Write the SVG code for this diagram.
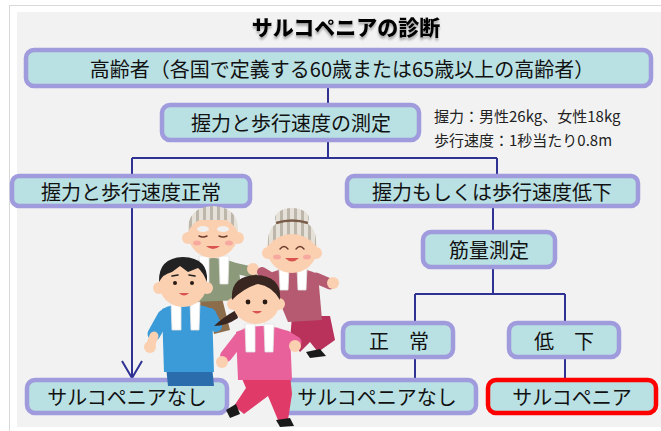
<svg xmlns="http://www.w3.org/2000/svg" width="661" height="431" viewBox="0 0 661 431">
  <defs>
    <style>
      .box { fill: #b9e0e3; stroke: #9f9bdd; stroke-width: 4.5; }
      .box-red { fill: #b9e0e3; stroke: #ff0000; stroke-width: 4.5; }
      .lbl { font-family: "Noto Sans CJK JP", "Noto Sans", sans-serif; font-size: 20px; fill: #111; text-anchor: middle; dominant-baseline: central; }
      .note { font-family: "Noto Sans CJK JP", "Noto Sans", sans-serif; font-size: 15px; fill: #222; }
      .wire { fill: none; stroke: #2f3193; stroke-width: 2; }
      .skin { fill: #fbd0b1; }
      .eye { fill: #2a1a14; }
      .line { fill: none; stroke: #6b3a2a; stroke-width: 1.4; stroke-linecap: round; }
      .towel { fill: #ffffff; stroke: #e2e2e2; stroke-width: 0.8; }
      .shoe { fill: #1a1a1a; }
    </style>
    <pattern id="greyStripes" width="7" height="10" patternUnits="userSpaceOnUse">
      <rect width="7" height="10" fill="#e6e1d8"/>
      <rect width="3" height="10" fill="#bdb6aa"/>
    </pattern>
    <!-- open V arrowhead, x axis follows the line direction -->
    <marker id="vhead" viewBox="0 0 20 24" refX="18" refY="12" markerWidth="20" markerHeight="24" markerUnits="userSpaceOnUse" orient="auto">
      <path d="M1,2 L18,12 L1,22" fill="none" stroke="#2f3193" stroke-width="2"/>
    </marker>
    <filter id="titleShade" x="-10%" y="-30%" width="120%" height="170%">
      <feDropShadow dx="0" dy="2.5" stdDeviation="1.2" flood-color="#888" flood-opacity="0.7"/>
    </filter>
  </defs>

  <!-- card and panel -->
  <rect x="0" y="0" width="661" height="431" fill="#ffffff"/>
  <rect x="9.5" y="5.5" width="660" height="430" fill="#ffffff" stroke="#d9d9d9" stroke-width="1"/>
  <rect x="17" y="12" width="650" height="415" fill="#f2f2f2"/>

  <!-- title -->
  <text x="346" y="35" font-family="Noto Sans CJK JP, Noto Sans, sans-serif" font-size="21" font-weight="900" fill="#000" text-anchor="middle" filter="url(#titleShade)">サルコペニアの診断</text>

  <!-- connectors -->
  <g id="connectors">
    <path class="wire" d="M328,86 V105"/>
    <path class="wire" d="M328,140 V158 M132,158 H497 M132,158 V176 M497,158 V176"/>
    <path class="wire" d="M132,206 V378" marker-end="url(#vhead)"/>
    <path class="wire" d="M493,206 V232"/>
    <path class="wire" d="M493,267 V294 M415,294 H565 M415,294 V323 M565,294 V323"/>
    <path class="wire" d="M415,357 V380 M565,357 V380"/>
  </g>

  <!-- nodes -->
  <g id="elderly">
    <rect class="box" x="26" y="50" width="625" height="36" rx="8"/>
    <text class="lbl" x="342" y="68" font-size="21">高齢者（各国で定義する60歳または65歳以上の高齢者）</text>
  </g>
  <g id="measure">
    <rect class="box" x="162" y="105" width="257" height="35" rx="8"/>
    <text class="lbl" x="291" y="122.5">握力と歩行速度の測定</text>
  </g>
  <g id="criteria">
    <text class="note" x="434" y="122">握力：男性26kg、女性18kg</text>
    <text class="note" x="434" y="146">歩行速度：1秒当たり0.8m</text>
  </g>
  <g id="normal-both">
    <rect class="box" x="12" y="176" width="238" height="30" rx="7"/>
    <text class="lbl" x="131" y="191">握力と歩行速度正常</text>
  </g>
  <g id="low-either">
    <rect class="box" x="347" y="176" width="291" height="30" rx="7"/>
    <text class="lbl" x="492" y="191">握力もしくは歩行速度低下</text>
  </g>
  <g id="muscle">
    <rect class="box" x="423" y="232" width="132" height="35" rx="8"/>
    <text class="lbl" x="489" y="249.5">筋量測定</text>
  </g>
  <g id="muscle-normal">
    <rect class="box" x="343" y="323" width="110" height="34" rx="8"/>
    <text class="lbl" x="399" y="340">正　常</text>
  </g>
  <g id="muscle-low">
    <rect class="box" x="509" y="323" width="110" height="34" rx="8"/>
    <text class="lbl" x="564" y="340">低　下</text>
  </g>
  <g id="none-left">
    <rect class="box" x="27" y="380" width="200" height="33" rx="8"/>
    <text class="lbl" x="127" y="396.5">サルコペニアなし</text>
  </g>
  <g id="none-mid">
    <rect class="box" x="278" y="380" width="198" height="33" rx="8"/>
    <text class="lbl" x="377" y="396.5">サルコペニアなし</text>
  </g>
  <g id="sarcopenia">
    <rect class="box-red" x="488" y="380" width="168" height="33" rx="8"/>
    <text class="lbl" x="572" y="396.5">サルコペニア</text>
  </g>

  <!-- four people jogging -->
  <g id="runners">
    <!-- grandfather -->
    <g>
      <path d="M197,298 L222,298 L230,330 L214,334 L210,312 L200,330 Z" fill="#8b6d4c"/>
      <path d="M190,264 Q213,252 238,264 L243,300 L192,302 Z" fill="#8c9a7b"/>
      <path d="M234,268 L252,272" stroke="#8c9a7b" stroke-width="11" stroke-linecap="round"/>
      <circle class="skin" cx="253" cy="269" r="6"/>
      <path class="towel" d="M199,256 L209,256 L209,284 L201,284 Z M219,256 L229,256 L228,284 L220,284 Z"/>
      <circle class="skin" cx="188" cy="238" r="6"/>
      <circle class="skin" cx="238" cy="238" r="6"/>
      <ellipse class="skin" cx="213" cy="234" rx="25" ry="24"/>
      <path d="M188,232 Q187,207 213,206 Q239,207 238,232 Q232,222 226,220 L200,220 Q193,222 188,232 Z" fill="url(#greyStripes)"/>
      <ellipse cx="203" cy="229" rx="6" ry="3" fill="#efefef"/>
      <ellipse cx="223" cy="229" rx="6" ry="3" fill="#efefef"/>
      <path class="line" d="M199,236 Q203,238 207,236 M219,236 Q223,238 227,236"/>
      <path d="M206,246 Q213,252 220,246 Z" fill="#d9534f"/>
      <ellipse cx="197" cy="243" rx="4" ry="2.5" fill="#f7a9a0"/>
      <ellipse cx="229" cy="243" rx="4" ry="2.5" fill="#f7a9a0"/>
    </g>
    <!-- grandmother -->
    <g>
      <path d="M292,316 L330,316 L335,340 L318,352 L310,342 L300,352 L290,340 Z" fill="#b8325c"/>
      <path class="shoe" d="M306,352 L320,349 L326,356 L310,358 Z"/>
      <path d="M268,274 Q292,262 318,274 L322,320 L288,322 Z" fill="#b55a70"/>
      <path d="M316,278 L330,284" stroke="#b55a70" stroke-width="11" stroke-linecap="round"/>
      <circle class="skin" cx="333" cy="283" r="6"/>
      <path d="M272,278 L262,272" stroke="#b55a70" stroke-width="10" stroke-linecap="round"/>
      <path class="towel" d="M279,268 L289,268 L288,290 L280,290 Z M297,268 L307,268 L306,290 L298,290 Z"/>
      <circle class="skin" cx="268" cy="253" r="6"/>
      <circle class="skin" cx="316" cy="253" r="6"/>
      <ellipse class="skin" cx="292" cy="249" rx="25" ry="24"/>
      <path d="M268,246 Q266,220 292,220 Q318,220 316,246 Q306,234 292,234 Q278,234 268,246 Z" fill="url(#greyStripes)"/>
      <ellipse cx="292" cy="218" rx="17" ry="10" fill="url(#greyStripes)"/>
      <path d="M276,223 Q292,218 308,223" stroke="#7a5a48" stroke-width="2.5" fill="none"/>
      <path class="line" d="M280,249 Q284,244 288,249 M296,249 Q300,244 304,249"/>
      <path d="M285,258 Q292,265 299,258 Z" fill="#d9534f"/>
      <ellipse cx="277" cy="257" rx="4" ry="2.5" fill="#f7a9a0"/>
      <ellipse cx="307" cy="257" rx="4" ry="2.5" fill="#f7a9a0"/>
    </g>
    <!-- boy -->
    <g>
      <path d="M166,366 L212,366 L214,386 L168,386 Z" fill="#2b6cad"/>
      <path d="M162,309 Q186,298 212,309 L214,372 L164,372 Z" fill="#3b9bd8"/>
      <path d="M164,316 L154,334" stroke="#3b9bd8" stroke-width="13" stroke-linecap="round"/>
      <path d="M154,336 L151,344" stroke="#fbd0b1" stroke-width="9" stroke-linecap="round"/>
      <circle class="skin" cx="150" cy="347" r="6"/>
      <path d="M210,314 L216,326" stroke="#3b9bd8" stroke-width="12" stroke-linecap="round"/>
      <path class="towel" d="M171,302 L181,302 L181,330 L172,330 Z M190,302 L200,302 L199,330 L191,330 Z"/>
      <circle class="skin" cx="159" cy="288" r="6"/>
      <circle class="skin" cx="207" cy="288" r="6"/>
      <ellipse class="skin" cx="183" cy="284" rx="24" ry="23"/>
      <path d="M159,282 Q158,258 183,257 Q209,258 207,282 Q203,272 198,268 L188,272 L180,266 L172,272 Q163,274 159,282 Z" fill="#222"/>
      <path d="M172,276 L178,275 M189,275 L195,276" stroke="#222" stroke-width="1.6" stroke-linecap="round"/>
      <circle class="eye" cx="175" cy="283" r="2"/>
      <circle class="eye" cx="192" cy="283" r="2"/>
      <path d="M179,293 Q184,298 189,293 Z" fill="#d9534f"/>
    </g>
    <!-- girl -->
    <g>
      <path d="M240,374 L290,374 L292,394 L288,420 L278,420 L268,396 L244,414 L234,406 L246,388 Z" fill="#e03a68"/>
      <path class="shoe" d="M226,410 L236,404 L240,414 L230,418 Z"/>
      <path class="shoe" d="M276,420 L290,418 L294,426 L280,427 Z"/>
      <path d="M236,332 Q262,320 290,332 L292,380 L238,380 Z" fill="#e8619b"/>
      <path d="M240,338 L226,356" stroke="#e8619b" stroke-width="12" stroke-linecap="round"/>
      <circle class="skin" cx="222" cy="362" r="6"/>
      <path d="M286,336 L296,342" stroke="#e8619b" stroke-width="11" stroke-linecap="round"/>
      <circle class="skin" cx="295" cy="346" r="6"/>
      <path class="towel" d="M245,324 L255,324 L255,352 L246,352 Z M264,324 L274,324 L273,352 L265,352 Z"/>
      <path d="M236,310 Q222,318 214,326 Q226,326 238,318 Z" fill="#3a2620"/>
      <circle class="skin" cx="233" cy="304" r="6"/>
      <circle class="skin" cx="279" cy="304" r="6"/>
      <ellipse class="skin" cx="256" cy="301" rx="24" ry="23"/>
      <path d="M232,300 Q230,276 256,275 Q282,276 280,300 Q272,286 258,284 Q244,288 232,300 Z" fill="#3a2620"/>
      <circle class="eye" cx="248" cy="302" r="2.4"/>
      <circle class="eye" cx="265" cy="302" r="2.4"/>
      <path d="M252,311 Q257,316 262,311 Z" fill="#d9534f"/>
    </g>
  </g>
</svg>
